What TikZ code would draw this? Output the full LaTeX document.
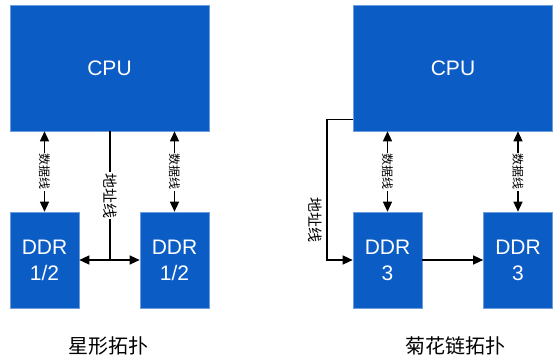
\documentclass[tikz,border=0pt]{standalone}
\usepackage{fontspec}
\setmainfont{Liberation Sans}
\newfontfamily\cjk{Noto Sans CJK SC}
\usetikzlibrary{arrows.meta}
\definecolor{cipblue}{HTML}{0B5CC4}

\tikzset{
  chip/.style={fill=cipblue, draw=cipblue!60!white, line width=0.6pt, text=white,
    font=\fontsize{21}{26}\selectfont, align=center, inner sep=0pt},
  cpubox/.style={chip, minimum width=199pt, minimum height=126pt},
  ddrbox/.style={chip, minimum width=69pt, minimum height=96pt},
  datalbl/.style={fill=white, rotate=-90, inner sep=1pt, font=\cjk\fontsize{12}{12}\selectfont},
  addrlbl/.style={fill=white, rotate=-90, inner sep=1pt, font=\cjk\fontsize{15}{15}\selectfont},
  toplbl/.style={font=\cjk\fontsize{20}{20}\selectfont}
}

\begin{document}
\begin{tikzpicture}[x=1pt, y=-1pt, >={Stealth[length=10pt, width=9pt, inset=0pt]}, line width=1.3pt]
\useasboundingbox (0,0) rectangle (560,361);

% hvězdicová topologie
\node[cpubox] (cpuL) at (109.5,68) {CPU};
\node[ddrbox] (ddrL1) at (44.5,260) {DDR\\1/2};
\node[ddrbox] (ddrL2) at (174.5,260) {DDR\\1/2};
\draw[<->] (ddrL1.north |- cpuL.south) -- node[datalbl] (dataL1) {数据线} (ddrL1.north);
\draw[<->] (ddrL2.north |- cpuL.south) -- node[datalbl] (dataL2) {数据线} (ddrL2.north);

% adresní linka
\coordinate (addrL) at (110,260);
\draw (addrL |- cpuL.south) -- node[addrlbl] (addrtxtL) {地址线} (addrL);
\draw[->] (addrL) -- (ddrL1.east);
\draw[->] (addrL) -- (ddrL2.west);

% topologie daisy chain
\node[cpubox] (cpuR) at (453,68) {CPU};
\node[ddrbox] (ddrR1) at (387.5,260) {DDR\\3};
\node[ddrbox] (ddrR2) at (518,260) {DDR\\3};
\draw[<->] (ddrR1.north |- cpuR.south) -- node[datalbl] (dataR1) {数据线} (ddrR1.north);
\draw[<->] (ddrR2.north |- cpuR.south) -- node[datalbl] (dataR2) {数据线} (ddrR2.north);

% adresní linka
\coordinate (addrR) at (327,260);
\draw[->] ([yshift=12pt]cpuR.south west) -| (addrR) -- (ddrR1.west);
\node[addrlbl, fill=none] (addrtxtR) at (315.5,220) {地址线};
\draw[->] (ddrR1.east) -- (ddrR2.west);

% popisky
\node[toplbl] (starlbl) at (108,346) {星形拓扑};
\node[toplbl] (chainlbl) at (455,346) {菊花链拓扑};

\end{tikzpicture}
\end{document}
